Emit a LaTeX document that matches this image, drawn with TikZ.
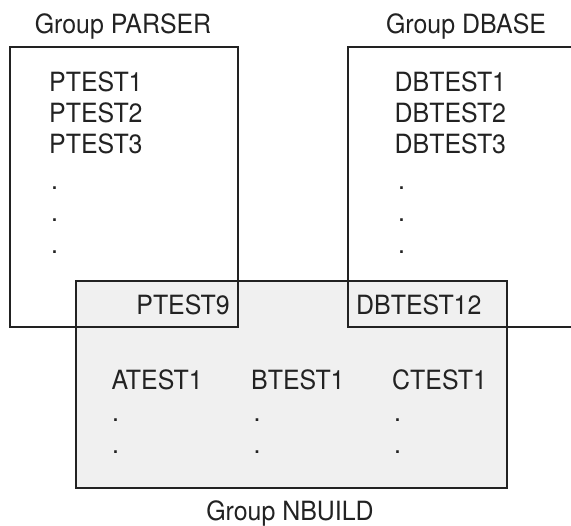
\documentclass[tikz,border=0pt]{standalone}
\usepackage{fontspec}
\setmainfont{TeX Gyre Heros}
\newfontfamily\hvn[FakeStretch=0.94]{TeX Gyre Heros}
\definecolor{nfill}{RGB}{240,240,240}
\definecolor{ink}{RGB}{34,34,34}
\begin{document}
\begin{tikzpicture}[x=1pt,y=-1pt,
  box/.style={line width=1.7pt, draw=ink},
  lbl/.style={anchor=base west, inner sep=0pt, text=ink, font=\hvn\fontsize{26.5}{30}\selectfont},
  lble/.style={lbl, anchor=base east},
  ttl/.style={lbl, anchor=base}]
\useasboundingbox (0,0) rectangle (571,526);
% Group NBUILD (filled)
\fill[nfill] (76,281) rectangle (507,488);
\draw[box] (76,281) rectangle (507,488);
% Group PARSER
\draw[box] (10,47) rectangle (238,327);
% Group DBASE (runs off the right edge)
\draw[box] (575,47) -- (348,47) -- (348,327) -- (575,327);
% titles
\node[ttl] (tparser) at (123,33.3) {Group PARSER};
\node[ttl] (tdbase) at (466,33.3) {Group DBASE};
\node[ttl] (tnbuild) at (290,520.5) {Group NBUILD};
% PARSER members
\node[lbl] (p1) at (49,91.7) {PTEST1};
\node[lbl] (p2) at (49,122.5) {PTEST2};
\node[lbl] (p3) at (49,153.3) {PTEST3};
\node[lbl] (pd1) at (51,190) {.};
\node[lbl] (pd2) at (51,222) {.};
\node[lbl] (pd3) at (51,254) {.};
\node[lble] (p9) at (230,315) {PTEST9};
% DBASE members
\node[lbl] (d1) at (394.5,91.7) {DBTEST1};
\node[lbl] (d2) at (394.5,122.5) {DBTEST2};
\node[lbl] (d3) at (394.5,153.3) {DBTEST3};
\node[lbl] (dd1) at (398,190) {.};
\node[lbl] (dd2) at (398,222) {.};
\node[lbl] (dd3) at (398,254) {.};
\node[lbl] (d12) at (356,315) {DBTEST12};
% NBUILD members
\node[lbl] (a1) at (111.5,389.5) {ATEST1};
\node[lbl] (b1) at (251,389.5) {BTEST1};
\node[lbl] (c1) at (392,389.5) {CTEST1};
\node[lbl] (ad1) at (112,422) {.};
\node[lbl] (ad2) at (112,454) {.};
\node[lbl] (bd1) at (253.5,422) {.};
\node[lbl] (bd2) at (253.5,454) {.};
\node[lbl] (cd1) at (394,422) {.};
\node[lbl] (cd2) at (394,454) {.};
\end{tikzpicture}
\end{document}
